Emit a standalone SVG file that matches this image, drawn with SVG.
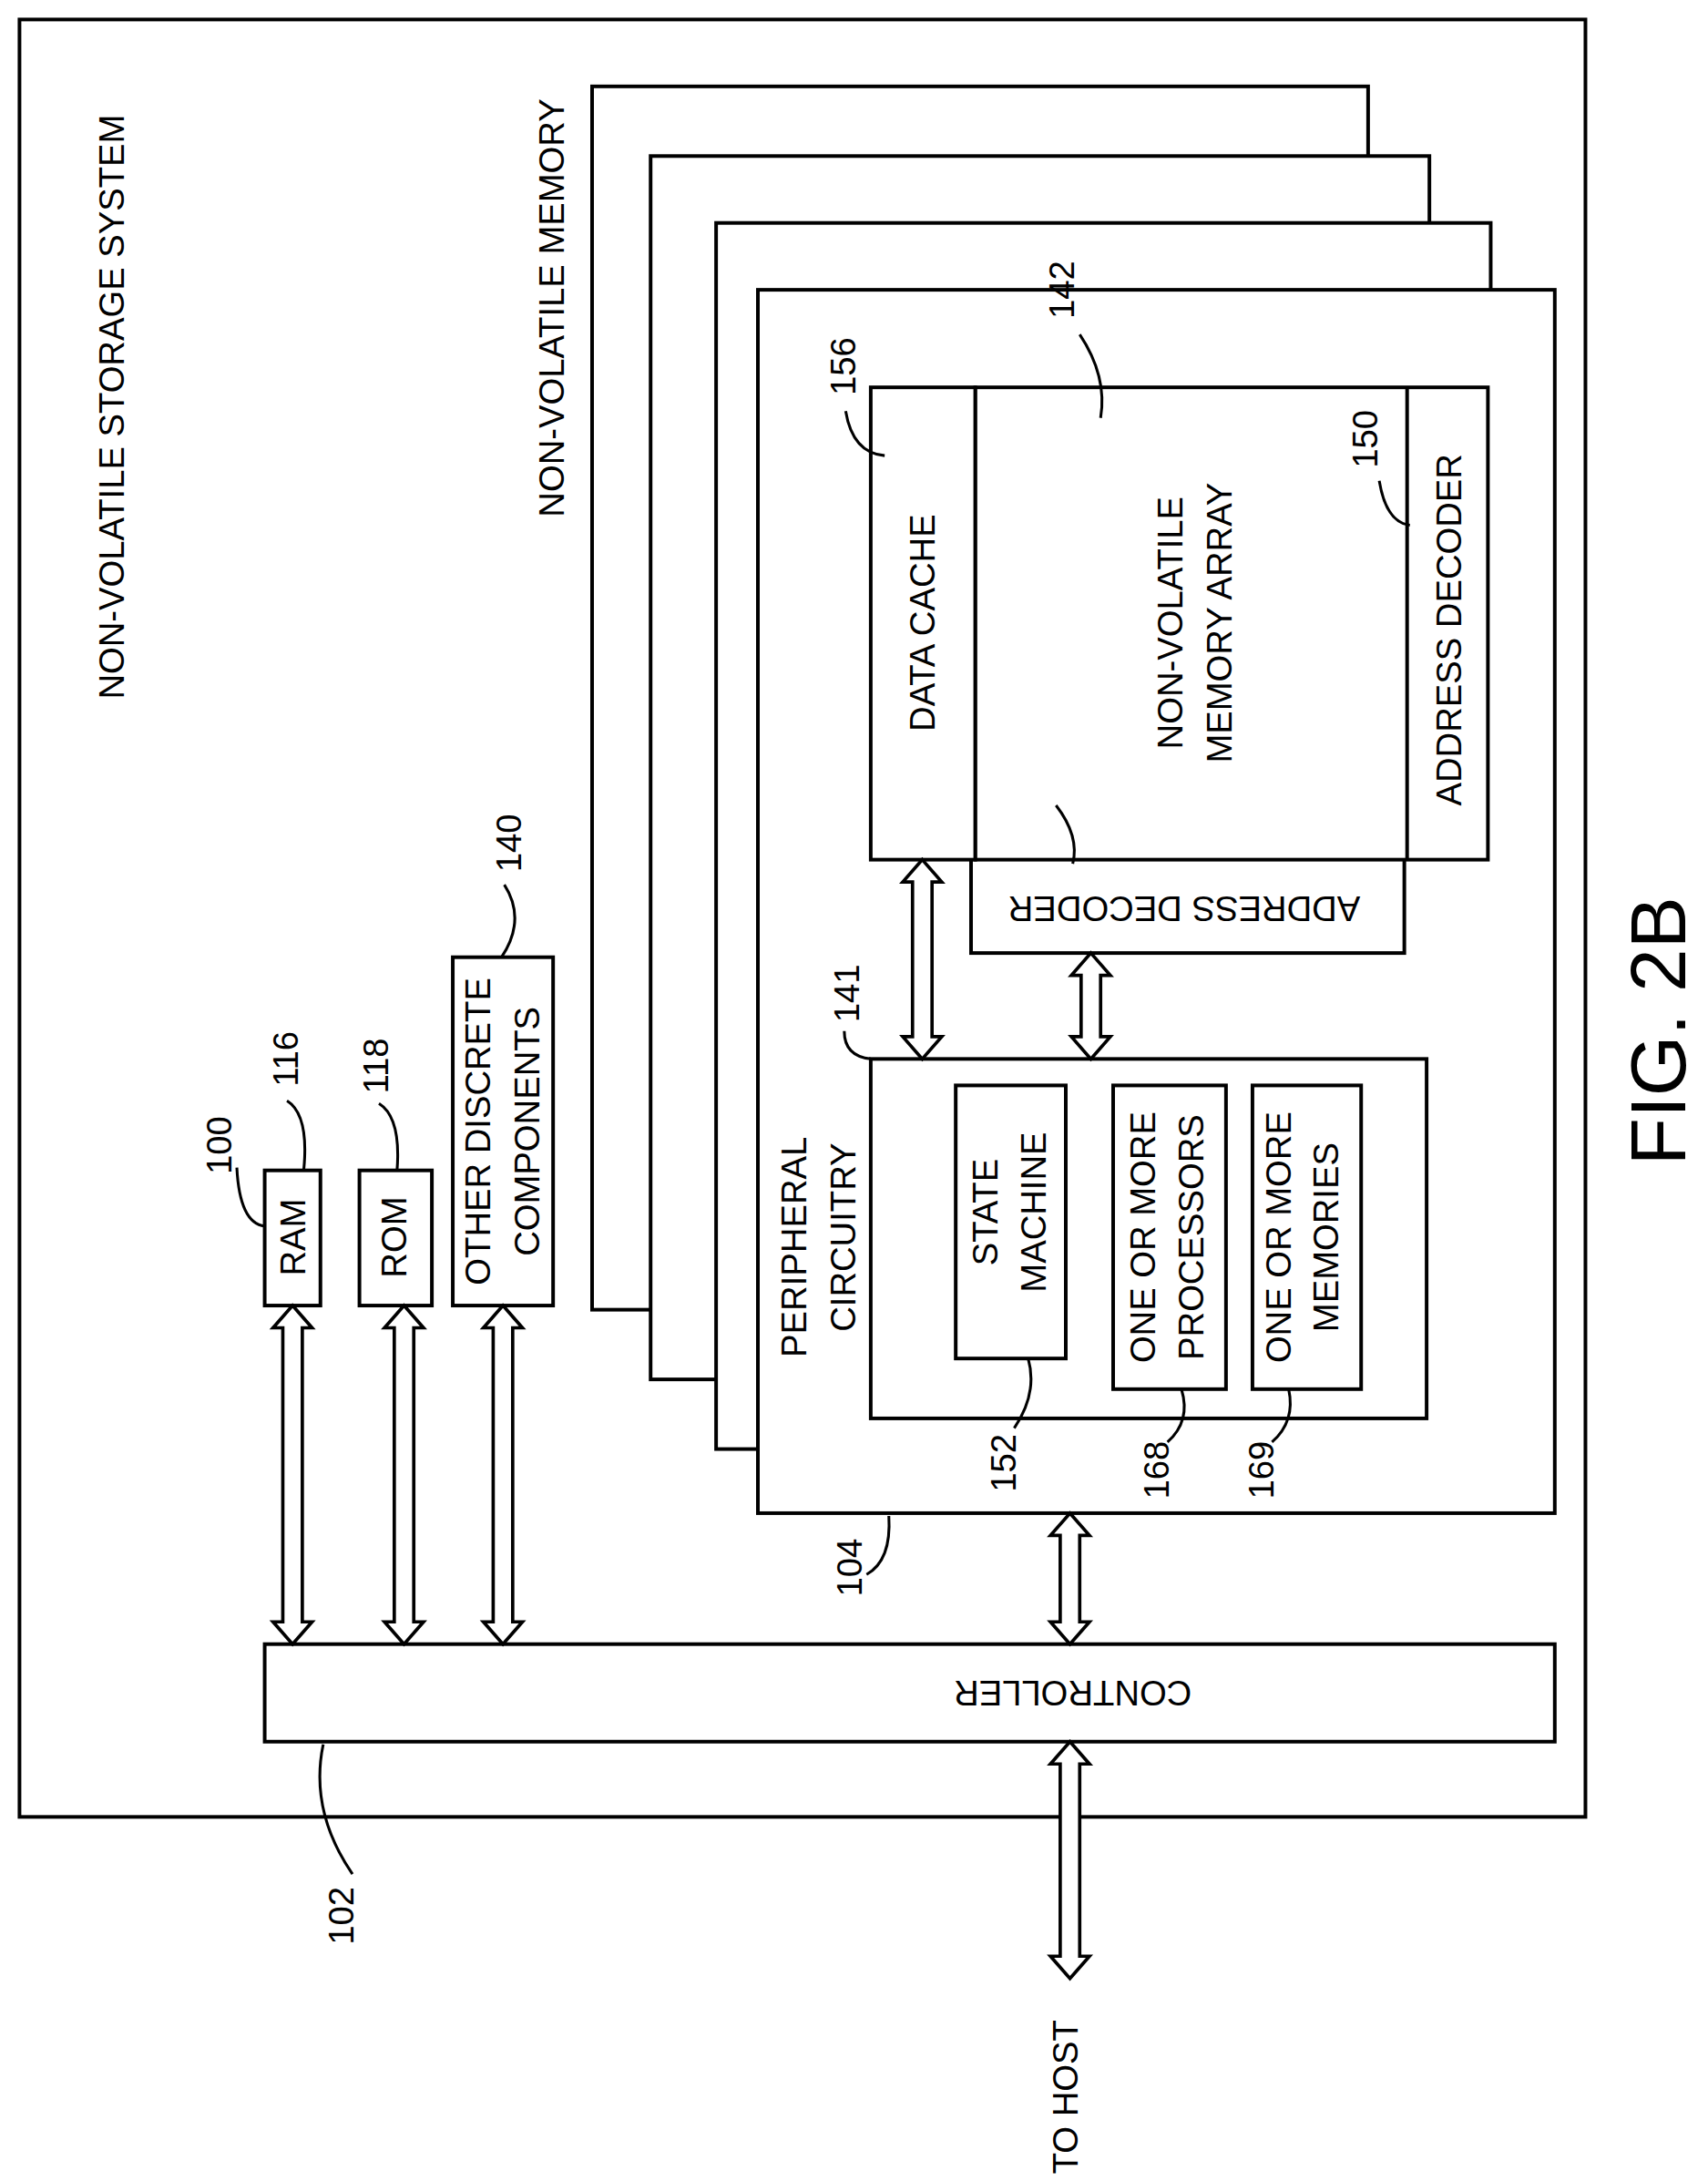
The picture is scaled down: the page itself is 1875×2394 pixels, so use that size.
<svg xmlns="http://www.w3.org/2000/svg" width="1875" height="2394" viewBox="0 0 1875 2394">
<style>
.b{fill:none;stroke:#000;stroke-width:2.6}
.w{fill:#fff;stroke:#000;stroke-width:2.6}
.a{fill:#fff;stroke:#000;stroke-width:2.4}
.l{fill:none;stroke:#000;stroke-width:2}
text{font-family:"Liberation Sans Narrow","Liberation Sans",Arial,sans-serif;font-size:25px;fill:#000;text-anchor:middle;dominant-baseline:central}
</style>
<rect width="1875" height="2394" fill="#fff"/>
<g transform="scale(1.5294)">
<g id="system"><rect class="b" x="14" y="14" width="1124" height="1290"/>
<text transform="translate(80,292) rotate(-90)">NON-VOLATILE STORAGE SYSTEM</text></g>
<g id="nvm-stack">
<rect class="w" x="425" y="62" width="557" height="878"/>
<rect class="w" x="467" y="112" width="559" height="878"/>
<rect class="w" x="514" y="160" width="556" height="880"/>
<rect class="w" x="544" y="208" width="572" height="878"/>
<text transform="translate(396,221) rotate(-90)">NON-VOLATILE MEMORY</text></g>
<g id="addrdec-bottom"><rect class="w" x="697" y="600" width="311" height="84"/>
<text transform="translate(850,652) rotate(180)">ADDRESS DECODER</text></g>
<g id="array"><rect class="w" x="700" y="278" width="368" height="339"/>
<line class="b" x1="1010" y1="278" x2="1010" y2="617"/>
<text transform="translate(840,447) rotate(-90)">NON-VOLATILE</text>
<text transform="translate(875,447) rotate(-90)">MEMORY ARRAY</text>
<text transform="translate(1040,452) rotate(-90)">ADDRESS DECODER</text></g>
<g id="datacache"><rect class="w" x="625" y="278" width="75" height="339"/>
<text transform="translate(662,447) rotate(-90)">DATA CACHE</text></g>
<g id="peripheral"><rect class="b" x="625" y="760" width="399" height="258"/>
<text transform="translate(570,895) rotate(-90)">PERIPHERAL</text>
<text transform="translate(605,888) rotate(-90)">CIRCUITRY</text></g>
<g id="statemachine"><rect class="b" x="686" y="779" width="79" height="196"/>
<text transform="translate(707,870) rotate(-90)">STATE</text>
<text transform="translate(742,870) rotate(-90)">MACHINE</text></g>
<g id="processors"><rect class="b" x="799" y="779" width="81" height="218"/>
<text transform="translate(820,888) rotate(-90)">ONE OR MORE</text>
<text transform="translate(855,888) rotate(-90)">PROCESSORS</text></g>
<g id="memories"><rect class="b" x="899" y="779" width="78" height="218"/>
<text transform="translate(918,888) rotate(-90)">ONE OR MORE</text>
<text transform="translate(952,888) rotate(-90)">MEMORIES</text></g>
<g id="ram"><rect class="b" x="190" y="840" width="40" height="97"/><text transform="translate(210,888) rotate(-90)">RAM</text></g>
<g id="rom"><rect class="b" x="258" y="840" width="52" height="97"/><text transform="translate(283,888) rotate(-90)">ROM</text></g>
<g id="other"><rect class="b" x="325" y="687" width="72" height="250"/>
<text transform="translate(343,812) rotate(-90)">OTHER DISCRETE</text>
<text transform="translate(378,812) rotate(-90)">COMPONENTS</text></g>
<g id="controller"><rect class="b" x="190" y="1180" width="926" height="70"/>
<text transform="translate(770,1215) rotate(180)">CONTROLLER</text></g>
<g id="host"><text transform="translate(765,1505) rotate(-90)">TO HOST</text></g>
<g id="fig"><text style="font-size:56px" transform="translate(1190,740) rotate(-90)">FIG. 2B</text></g>
<g id="connectors">
<path class="a" d="M210,937 L224,953 L217,953 L217,1164 L224,1164 L210,1180 L196,1164 L203,1164 L203,953 L196,953 Z"/>
<path class="a" d="M290,937 L304,953 L297,953 L297,1164 L304,1164 L290,1180 L276,1164 L283,1164 L283,953 L276,953 Z"/>
<path class="a" d="M361,937 L375,953 L368,953 L368,1164 L375,1164 L361,1180 L347,1164 L354,1164 L354,953 L347,953 Z"/>
<path class="a" d="M768,1086 L782,1102 L775,1102 L775,1164 L782,1164 L768,1180 L754,1164 L761,1164 L761,1102 L754,1102 Z"/>
<path class="a" d="M768,1250 L782,1266 L775,1266 L775,1404 L782,1404 L768,1420 L754,1404 L761,1404 L761,1266 L754,1266 Z"/>
<path class="a" d="M662,617 L676,633 L669,633 L669,744 L676,744 L662,760 L648,744 L655,744 L655,633 L648,633 Z"/>
<path class="a" d="M783,684 L797,700 L790,700 L790,744 L797,744 L783,760 L769,744 L776,744 L776,700 L769,700 Z"/>
</g>
<g id="labels">
<text transform="translate(157,822) rotate(-90)">100</text><path class="l" d="M170,838 Q172,878 190,880"/>
<text transform="translate(205,760) rotate(-90)">116</text><path class="l" d="M206,790 Q222,800 218,840"/>
<text transform="translate(270,765) rotate(-90)">118</text><path class="l" d="M272,792 Q288,802 285,840"/>
<text transform="translate(365,605) rotate(-90)">140</text><path class="l" d="M362,635 Q378,660 360,687"/>
<text transform="translate(608,713) rotate(-90)">141</text><path class="l" d="M606,740 Q606,758 625,760"/>
<text transform="translate(605,263) rotate(-90)">156</text><path class="l" d="M607,295 Q612,325 635,327"/>
<text transform="translate(762,208) rotate(-90)">142</text><path class="l" d="M775,240 Q795,270 790,300"/>
<text transform="translate(980,315) rotate(-90)">150</text><path class="l" d="M990,345 Q995,375 1012,377"/>
<path class="l" d="M758,578 Q775,600 770,620"/>
<text transform="translate(720,1050) rotate(-90)">152</text><path class="l" d="M728,1025 Q745,1000 738,975"/>
<text transform="translate(830,1055) rotate(-90)">168</text><path class="l" d="M838,1035 Q855,1020 848,997"/>
<text transform="translate(905,1055) rotate(-90)">169</text><path class="l" d="M913,1035 Q930,1020 925,997"/>
<text transform="translate(610,1125) rotate(-90)">104</text><path class="l" d="M622,1130 Q640,1120 638,1088"/>
<text transform="translate(245,1375) rotate(-90)">102</text><path class="l" d="M253,1345 Q222,1300 232,1252"/>
</g>
</g>
</svg>
